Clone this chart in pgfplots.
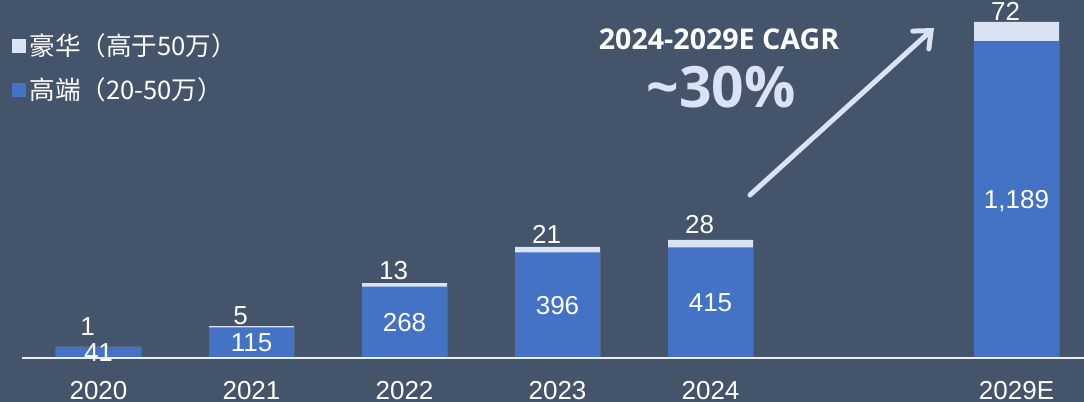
\documentclass[border=0pt]{standalone}
\usepackage{fontspec}
\setmainfont{Liberation Sans}
\newfontfamily\cjk{Noto Sans CJK SC}
\newfontfamily\osans{Open Sans}
\usepackage{pgfplots}
\pgfplotsset{compat=1.18}
\usepackage{pgfplotstable}
\usetikzlibrary{arrows.meta}
\definecolor{bg}{HTML}{44546A}
\definecolor{hiblue}{HTML}{4472C4}
\definecolor{luxc}{HTML}{DAE3F3}
\pgfplotstableread{
x high lux hlab dy
0 41 1 41 5.5
1 115 5 115 1
2 268 13 268 2
3 396 21 396 1.5
4 415 28 415 3
6 1189 72 1,189 0.6
}\data
\begin{document}
\begin{tikzpicture}
\fill[bg] (0,0) rectangle (542pt,201pt);
\begin{axis}[at={(0pt,22pt)}, anchor=south west, scale only axis,
  width=542pt, height=179pt,
  xmin=-0.6438, xmax=6.441, ymin=0, ymax=1343.5,
  axis line style={draw=none}, ytick=\empty,
  xtick={0,1,2,3,4,6}, xticklabels={2020,2021,2022,2023,2024,2029E},
  major tick length=0pt, tick style={draw=none},
  xticklabel style={font=\fontsize{13}{15}\selectfont, text=white, anchor=base, yshift=-20.5pt},
  clip=false,
  legend style={at={(axis description cs:0,1)}, anchor=north west, xshift=6pt, yshift=-15pt,
    draw=none, fill=none, font=\cjk\fontsize{12.8}{14}\selectfont, text=white,
    row sep=6.5pt, inner sep=0pt, nodes={inner sep=1.5pt}},
  legend cell align=left,
]
\addplot[ybar, bar width=0.5556, bar shift=0pt, fill=luxc, draw=none,
  nodes near coords, point meta=explicit symbolic,
  visualization depends on={\thisrow{dy} \as \dy},
  every node near coord/.append style={font=\fontsize{13}{15}\selectfont, text=white, anchor=base, xshift=-5.5pt, yshift=\dy pt, inner sep=0pt},
  legend image code/.code={\fill[luxc] (0pt,-3.5pt) rectangle (7pt,3.5pt);}]
  table[x=x, y expr=\thisrow{high}+\thisrow{lux}, meta=lux]{\data};
\addlegendentry{豪华（高于50万）}
\addplot[ybar, bar width=0.5556, bar shift=0pt, fill=hiblue, draw=none,
  legend image code/.code={\fill[hiblue] (0pt,-3.5pt) rectangle (7pt,3.5pt);}]
  table[x=x, y=high]{\data};
\addlegendentry{高端（20-50万）}
\addplot[only marks, mark=none, forget plot, nodes near coords, point meta=explicit symbolic,
  every node near coord/.append style={font=\fontsize{13}{15}\selectfont, text=white, anchor=base, yshift=-4.6pt, inner sep=0pt}]
  table[x=x, y expr=\thisrow{high}/2, meta=hlab]{\data};
\draw[white!90!bg, line width=1pt] (axis cs:-0.5,0) -- (axis cs:6.441,0);
\end{axis}
\draw[luxc, line width=2.5pt, line cap=round, -{Straight Barb[length=7pt, width=12pt, line cap=round]}] (375pt,103.5pt) -- (467pt,187pt);
\node[font=\osans\bfseries\fontsize{14.3}{16}\selectfont, text=white, anchor=base, inner sep=0pt] at (359.5pt,176pt) {2024-2029E CAGR};
\node[font=\osans\bfseries\fontsize{28.5}{30}\selectfont, text=luxc, anchor=base, inner sep=0pt] at (360.5pt,147pt) {\textasciitilde30\%};
\pgfresetboundingbox
\useasboundingbox (0,0) rectangle (542pt,201pt);
\end{tikzpicture}
\end{document}
